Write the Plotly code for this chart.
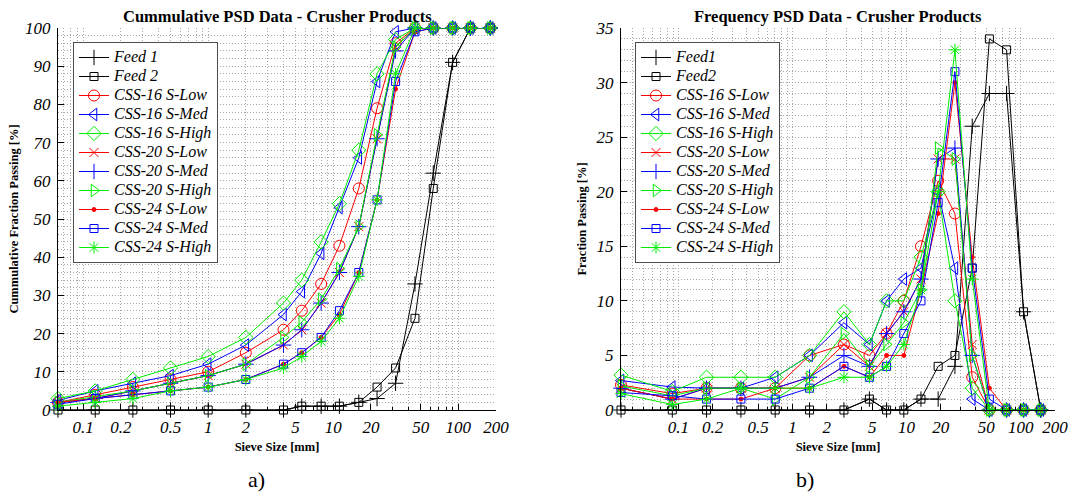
import math
import plotly.graph_objects as go

# ---------------- data ----------------
sieve_cum = [0.063, 0.125, 0.25, 0.5, 1, 2, 4, 5.6, 8, 11.2, 16, 22.4, 31.5, 45, 63, 90, 125, 180]

cum_feed1 = [0, 0, 0, 0, 0, 0, 0, 1, 1, 1, 2, 3, 7, 33, 62, 91, 100, 100]
cum_feed2 = [0, 0, 0, 0, 0, 0, 0, 1, 1, 1, 2, 6, 11, 24, 58, 91, 100, 100]
cum_16_low = [2, 4, 6, 8, 10, 15, 21, 26, 33, 43, 58, 79, 96, 100, 100, 100, 100, 100]
cum_16_med = [2.5, 5, 7, 9, 12, 17, 25, 31, 41, 53, 66, 86, 99, 100, 100, 100, 100, 100]
cum_16_high = [3, 5, 8, 11, 14, 19, 28, 34, 44, 54, 68, 88, 97, 100, 100, 100, 100, 100]
cum_20_low = [2, 3, 5, 7, 9, 12, 17, 21, 28, 36, 48, 71, 95, 100, 100, 100, 100, 100]
cum_20_med = [2, 3, 5, 7, 9, 12, 17, 21, 28, 36, 48, 71, 94, 100, 100, 100, 100, 100]
cum_20_high = [2, 3.5, 5, 7, 9, 12, 19, 23, 29, 37, 48, 72, 95, 100, 100, 100, 100, 100]
cum_24_low = [2, 3, 4, 5, 6, 8, 12, 15, 19, 25, 36, 55, 84, 99, 100, 100, 100, 100]
cum_24_med = [1.5, 3, 4, 5, 6, 8, 12, 15, 19, 26, 36, 55, 86, 99, 100, 100, 100, 100]
cum_24_high = [1, 2, 3, 5, 6, 8, 11, 14, 18, 24, 35, 55, 88, 100, 100, 100, 100, 100]

size_freq = [0.0315, 0.0887, 0.177, 0.354, 0.707, 1.414, 2.83, 4.73, 6.69, 9.47,
             13.39, 18.93, 26.56, 37.65, 53.24, 75.29, 106.07, 150]

freq_feed1 = [0, 0, 0, 0, 0, 0, 0, 1, 0, 0, 1, 1, 4, 26, 29, 29, 9, 0]
freq_feed2 = [0, 0, 0, 0, 0, 0, 0, 1, 0, 0, 1, 4, 5, 13, 34, 33, 9, 0]
freq_16_low = [2.3, 1.5, 2, 2, 2, 5, 6, 5, 7, 10, 15, 21, 18, 3, 0, 0, 0, 0]
freq_16_med = [2.7, 2.1, 2, 2, 3, 5, 8, 6, 10, 12, 13, 20, 13, 1, 0, 0, 0, 0]
freq_16_high = [3.2, 1.7, 3, 3, 3, 5, 9, 6, 10, 10, 14, 20, 10, 2, 0, 0, 0, 0]
freq_20_low = [2, 1, 2, 2, 2, 3, 6, 4, 7, 9, 12, 23, 23, 6, 0, 0, 0, 0]
freq_20_med = [2, 1, 2, 2, 2, 3, 5, 4, 7, 9, 12, 23, 24, 5, 0, 0, 0, 0]
freq_20_high = [2.2, 1.3, 2, 2, 1, 3, 7, 4, 6, 8, 11, 24, 23, 5, 0, 0, 0, 0]
freq_24_low = [2, 1, 1, 1, 2, 2, 4, 3, 5, 5, 11, 18, 30, 14, 2, 0, 0, 0]
freq_24_med = [1.6, 1.3, 1, 1, 1, 2, 4, 3, 4, 7, 10, 19, 31, 13, 1, 0, 0, 0]
freq_24_high = [1.5, 0.5, 1, 2, 2, 2, 3, 3, 4, 6, 11, 20, 33, 12, 0, 0, 0, 0]

names_cum = ["Feed 1", "Feed 2", "CSS-16 S-Low", "CSS-16 S-Med", "CSS-16 S-High",
             "CSS-20 S-Low", "CSS-20 S-Med", "CSS-20 S-High",
             "CSS-24 S-Low", "CSS-24 S-Med", "CSS-24 S-High"]
names_freq = ["Feed1", "Feed2", "CSS-16 S-Low", "CSS-16 S-Med", "CSS-16 S-High",
              "CSS-20 S-Low", "CSS-20 S-Med", "CSS-20 S-High",
              "CSS-24 S-Low", "CSS-24 S-Med", "CSS-24 S-High"]

x_tick_vals = [0.1, 0.2, 0.5, 1, 2, 5, 10, 20, 50, 100, 200]
x_tick_text = ["0.1", "0.2", "0.5", "1", "2", "5", "10", "20", "50", "100", "200"]

cum_series = [cum_feed1, cum_feed2, cum_16_low, cum_16_med, cum_16_high,
              cum_20_low, cum_20_med, cum_20_high, cum_24_low, cum_24_med, cum_24_high]
freq_series = [freq_feed1, freq_feed2, freq_16_low, freq_16_med, freq_16_high,
               freq_20_low, freq_20_med, freq_20_high, freq_24_low, freq_24_med, freq_24_high]

# ---------------- styles ----------------
colors = ["#000000", "#000000", "#ff0000", "#0000ff", "#00ee00",
          "#ff0000", "#0000ff", "#00ee00", "#ff0000", "#0000ff", "#00ee00"]
symbols = ["cross-thin-open", "square-open", "circle-open", "triangle-left-open", "diamond-open",
           "x-thin-open", "cross-thin-open", "triangle-right-open", "circle", "square-open",
           "asterisk-open"]
sizes = [11, 8, 11, 11, 11, 9, 11, 11, 4, 8, 10]

FONT = "Liberation Serif"
W, H = 1069, 494
T, B = 28, 84
left_dom = [58 / W, 496 / W]
right_dom = [621 / W, 1055 / W]
ph = H - T - B


def py(pix):
    return (H - B - pix) / ph


fig = go.Figure()


def leg_name(n):
    return '<span style="font-size:16px">' + n + '</span>'


for i in range(len(cum_series)):
    fig.add_trace(go.Scatter(
        x=sieve_cum, y=cum_series[i], mode="lines+markers", name=leg_name(names_cum[i]),
        line=dict(color=colors[i], width=1),
        marker=dict(symbol=symbols[i], size=sizes[i], color=colors[i],
                    line=dict(color=colors[i], width=1)),
        cliponaxis=False, xaxis="x", yaxis="y", legend="legend"))

for i in range(len(freq_series)):
    fig.add_trace(go.Scatter(
        x=size_freq, y=freq_series[i], mode="lines+markers", name=leg_name(names_freq[i]),
        line=dict(color=colors[i], width=1),
        marker=dict(symbol=symbols[i], size=sizes[i], color=colors[i],
                    line=dict(color=colors[i], width=1)),
        cliponaxis=False, xaxis="x2", yaxis="y2", legend="legend2"))

minor_x = []
for e in range(-2, 3):
    for m in range(1, 10):
        minor_x.append(m * 10 ** e)

grid_col = "#a8a8a8"
grid_dash = "1px,2px"
tick_font = dict(family=FONT, size=17, color="black", style="italic")
title_font = dict(family=FONT, size=12.5, color="black", weight="bold")


def xaxis_cfg(dom, rng, anchor, title):
    return dict(
        domain=dom, anchor=anchor, type="log", range=rng, automargin=False,
        tickmode="array", tickvals=x_tick_vals, ticktext=x_tick_text, tickangle=0,
        ticks="inside", ticklen=6, tickcolor="black", tickwidth=1,
        showline=True, linecolor="black", linewidth=1, mirror=False,
        showgrid=True, gridcolor=grid_col, griddash=grid_dash, gridwidth=1,
        zeroline=False, tickfont=tick_font, ticklabelstandoff=2,
        ticklabeloverflow="allow",
        minor=dict(tickvals=minor_x, ticks="inside", ticklen=3, tickcolor="black",
                   showgrid=True, gridcolor=grid_col, griddash=grid_dash, gridwidth=1),
        title=dict(text=title, font=title_font, standoff=5),
    )


def yaxis_cfg(rng, dtick, mdtick, anchor, title, standoff):
    return dict(
        domain=[0, 1], anchor=anchor, range=rng, automargin=False,
        tickmode="linear", tick0=0, dtick=dtick,
        ticks="inside", ticklen=6, tickcolor="black", tickwidth=1,
        showline=True, linecolor="black", linewidth=1, mirror=False,
        showgrid=True, gridcolor=grid_col, griddash=grid_dash, gridwidth=1,
        zeroline=False, tickfont=tick_font, ticklabelstandoff=3,
        ticklabeloverflow="allow",
        minor=dict(dtick=mdtick, tick0=0, ticks="", showgrid=True,
                   gridcolor=grid_col, griddash=grid_dash, gridwidth=1),
        title=dict(text=title, font=title_font, standoff=standoff),
    )


legend_common = dict(
    xref="paper", yref="paper", xanchor="left", yanchor="top",
    bgcolor="white", bordercolor="#4d4d4d", borderwidth=1,
    font=dict(family=FONT, size=12, color="black", style="italic"),
    itemclick=False, itemdoubleclick=False, tracegroupgap=0,
)

fig.update_layout(
    width=W, height=H,
    margin=dict(l=0, r=0, t=T, b=B, pad=0, autoexpand=False),
    template="none",
    paper_bgcolor="white", plot_bgcolor="white",
    font=dict(family=FONT, color="black"),
    showlegend=True,
    xaxis=xaxis_cfg(left_dom, [math.log10(0.063), math.log10(200)], "y", "Sieve Size [mm]"),
    yaxis=yaxis_cfg([0, 100], 10, 2, "x", "Cummulative Fraction Passing [%]", 3),
    xaxis2=xaxis_cfg(right_dom, [math.log10(0.0315), math.log10(200)], "y2", "Sieve Size [mm]"),
    yaxis2=yaxis_cfg([0, 35], 5, 1, "x2", "Fraction Passing [%]", 6),
    legend=dict(x=73 / W, y=py(42), **legend_common),
    legend2=dict(x=635 / W, y=py(42), **legend_common),
)

ann_common = dict(xref="paper", yref="paper", showarrow=False, xanchor="center", yanchor="middle")
fig.add_annotation(text="Cummulative PSD Data - Crusher Products", x=(left_dom[0] + left_dom[1]) / 2,
                   y=py(16), font=dict(family=FONT, size=16.5, color="black", weight="bold"), **ann_common)
fig.add_annotation(text="Frequency PSD Data - Crusher Products", x=(right_dom[0] + right_dom[1]) / 2,
                   y=py(16), font=dict(family=FONT, size=16.5, color="black", weight="bold"), **ann_common)
fig.add_annotation(text="a)", x=256 / W, y=py(479),
                   font=dict(family=FONT, size=22, color="black"), **ann_common)
fig.add_annotation(text="b)", x=805 / W, y=py(479),
                   font=dict(family=FONT, size=22, color="black"), **ann_common)

fig.write_html("out.html")
